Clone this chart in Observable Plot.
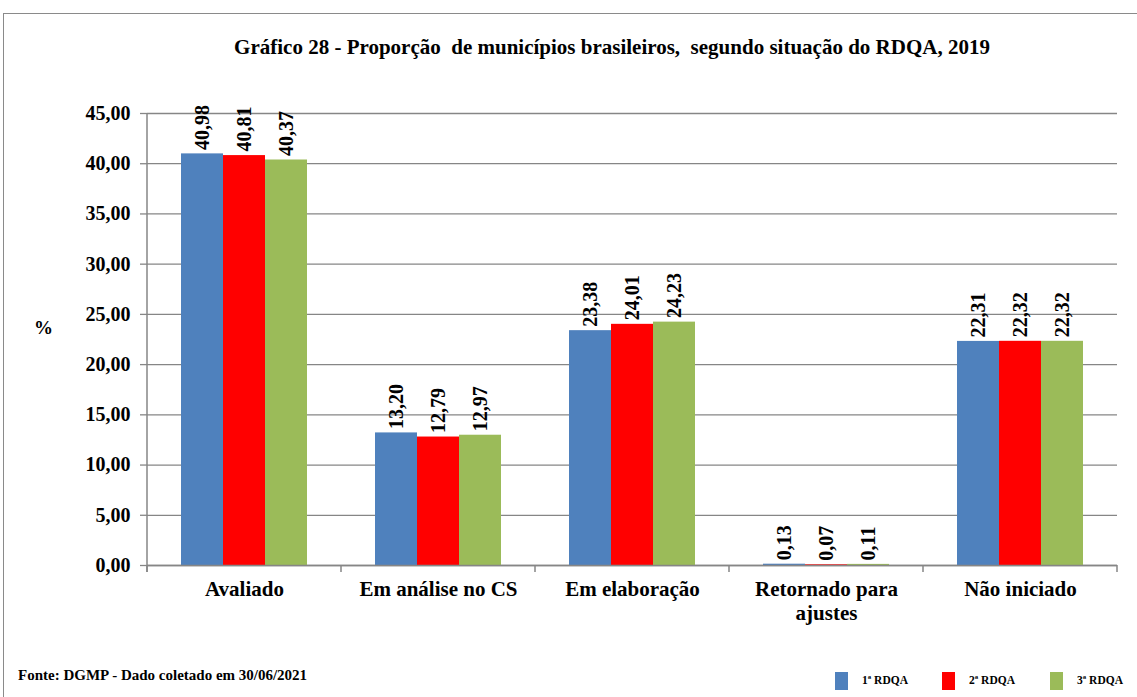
<!DOCTYPE html>
<html><head><meta charset="utf-8">
<script src="https://cdn.jsdelivr.net/npm/d3@7"></script>
<script src="https://cdn.jsdelivr.net/npm/@observablehq/plot@0.6"></script>
<style>
body{margin:0;background:#fff;}
#wrap{position:relative;width:1137px;height:697px;overflow:hidden;font-family:"Liberation Serif","Times New Roman",serif;font-weight:bold;color:#000;}
#border{position:absolute;left:3px;top:13px;width:1300px;height:900px;border:1.5px solid #8a8a8a;box-sizing:border-box;}
#chart{position:absolute;left:0;top:0;}
#chart svg, #chart svg text{font-family:"Liberation Serif","Times New Roman",serif !important;font-weight:bold;}
#title{position:absolute;top:35px;left:612px;transform:translateX(-50%);white-space:pre;font-size:21px;}
#pct{position:absolute;left:34px;top:317px;font-size:19px;}
#foot{position:absolute;left:18px;top:667px;font-size:15px;white-space:nowrap;}
.lg{position:absolute;top:672px;width:13px;height:18px;}
.lt{position:absolute;top:674px;font-size:11.5px;white-space:nowrap;}
</style></head>
<body>
<div id="wrap">
  <div id="border"></div>
  <div id="chart"></div>
  <div id="title"></div>
  <div id="pct">%</div>
  <div id="foot"></div>
  <div id="legend"></div>
</div>
<script>
const titleText = "Gráfico 28 - Proporção  de municípios brasileiros,  segundo situação do RDQA, 2019";
const footText = "Fonte: DGMP - Dado coletado em 30/06/2021";
const categories = ["Avaliado", "Em análise no CS", "Em elaboração", "Retornado para ajustes", "Não iniciado"];
const categoryLabels = ["Avaliado", "Em análise no CS", "Em elaboração", "Retornado para\najustes", "Não iniciado"];
const series = ["1ª RDQA", "2ª RDQA", "3ª RDQA"];
const rdqa1 = [40.98, 13.20, 23.38, 0.13, 22.31];
const rdqa2 = [40.81, 12.79, 24.01, 0.07, 22.32];
const rdqa3 = [40.37, 12.97, 24.23, 0.11, 22.32];
const colors = ["#4F81BD", "#FF0000", "#9BBB59"];
const yTicks = [0, 5, 10, 15, 20, 25, 30, 35, 40, 45];

const seriesValues = [rdqa1, rdqa2, rdqa3];
const data = [];
categories.forEach((c, i) => series.forEach((s, j) => data.push({category: c, series: s, value: seriesValues[j][i]})));
const fmt = d => d.toFixed(2).replace(".", ",");
const labelOf = c => categoryLabels[categories.indexOf(c)];
const gray = "#868686";

document.getElementById("title").textContent = titleText;
document.getElementById("foot").textContent = footText;

const plot = Plot.plot({
  width: 1137, height: 697,
  marginLeft: 146, marginRight: 19, marginTop: 113, marginBottom: 132,
  style: {fontFamily: "'Liberation Serif', 'Times New Roman', serif", fontWeight: "bold", fontSize: "20px", background: "transparent", color: "#000", overflow: "visible"},
  fx: {domain: categories, paddingInner: 0, paddingOuter: 0, label: null},
  x: {domain: series, paddingInner: 0, paddingOuter: 0.76, axis: null},
  y: {domain: [0, 45], label: null},
  color: {domain: series, range: colors},
  marks: [
    Plot.gridY(yTicks, {stroke: gray, strokeOpacity: 1, strokeWidth: 1.3}),
    Plot.axisY(yTicks, {tickSize: 7, tickPadding: 10, tickFormat: fmt, stroke: gray, strokeWidth: 1.3, fontSize: 20, label: null}),
    Plot.axisFx({anchor: "bottom", tickSize: 0, tickPadding: 13, tickFormat: labelOf, fontSize: 21, lineHeight: 1.15, label: null}),
    Plot.barY(data, {fx: "category", x: "series", y: "value", fill: "series"}),
    Plot.ruleY([0], {stroke: gray, strokeWidth: 1.5}),
    Plot.text(data, {fx: "category", x: "series", y: "value", text: d => fmt(d.value), rotate: -90, textAnchor: "start", dy: -4, fontSize: 20, fill: "#000"})
  ]
});
document.getElementById("chart").appendChild(plot);

// axis line and category boundary ticks derived from the plot scales
const fxS = plot.scale("fx"), yS = plot.scale("y");
const svg = d3.select(plot);
const y0 = yS.apply(0), yTop = yS.apply(45);
const starts = fxS.domain.map(d => fxS.apply(d));
const bounds = starts.concat([starts[starts.length - 1] + fxS.step]);
const g = svg.append("g").attr("stroke", gray).attr("stroke-width", 1.5);
g.append("line").attr("x1", bounds[0]).attr("x2", bounds[0]).attr("y1", y0 + 7).attr("y2", yTop);
bounds.forEach(b => g.append("line").attr("x1", b).attr("x2", b).attr("y1", y0).attr("y2", y0 + 7));

// legend
const lg = document.getElementById("legend");
const lgX = [835, 942, 1050];
series.forEach((s, i) => {
  const sw = document.createElement("div");
  sw.className = "lg"; sw.style.left = lgX[i] + "px"; sw.style.background = colors[i];
  const t = document.createElement("div");
  t.className = "lt"; t.style.left = (lgX[i] + 27) + "px"; t.textContent = s;
  lg.appendChild(sw); lg.appendChild(t);
});
</script>
</body></html>
